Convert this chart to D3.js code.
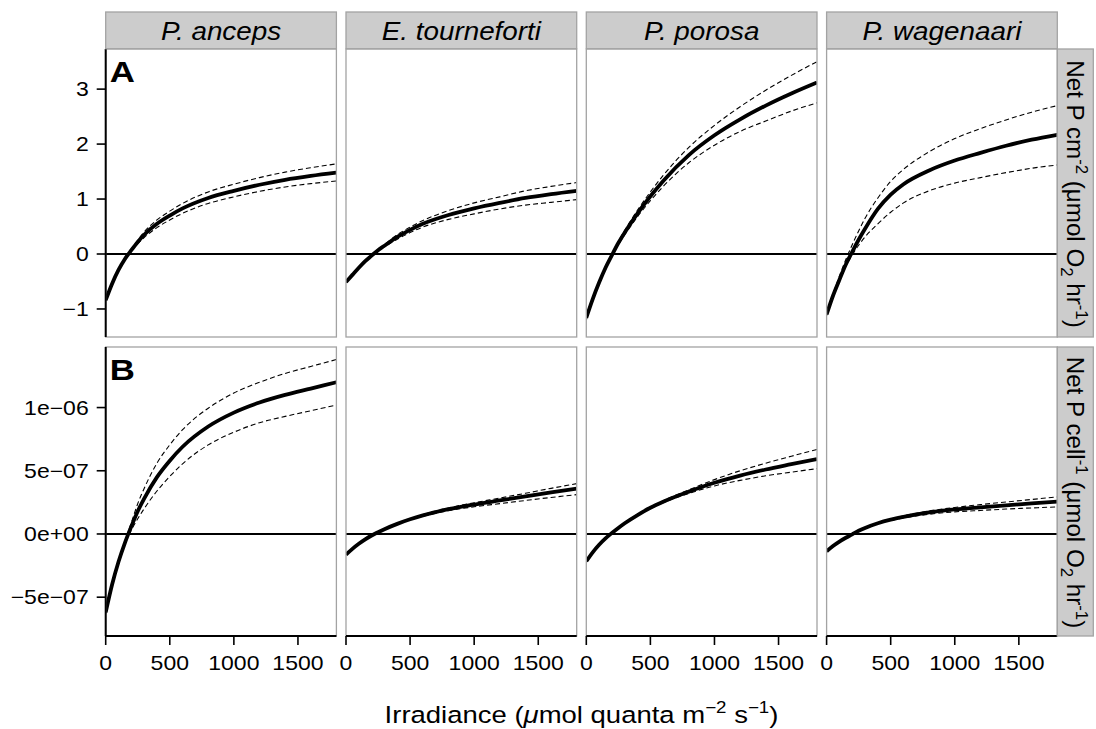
<!DOCTYPE html>
<html>
<head>
<meta charset="utf-8">
<script src="https://cdn.jsdelivr.net/npm/d3@7"></script>
<style>
  body { margin: 0; background: #fff; }
  svg { display: block; }
  text { font-family: "Liberation Sans", Arial, Helvetica, sans-serif; fill: #000; }
</style>
</head>
<body>
<svg id="chart" width="1096" height="729"></svg>
<script>
// Species shown in the four facet columns
const species = ["P. anceps", "E. tourneforti", "P. porosa", "P. wagenaari"];

// Irradiance grid (µmol quanta m^-2 s^-1) shared by every fitted curve
const irradiance = [0, 50, 100, 150, 200, 250, 300, 400, 500, 600, 800, 1000, 1200, 1400, 1600, 1800];
const xTicks = [0, 500, 1000, 1500];

// Row A: net P per cm^2 (µmol O2 hr^-1) — fit and confidence bounds, one array per species
const areaFit = [
  [-0.84, -0.54, -0.29, -0.09, 0.07, 0.22, 0.35, 0.55, 0.70, 0.83, 1.02, 1.15, 1.26, 1.35, 1.42, 1.48],
  [-0.51, -0.38, -0.25, -0.13, -0.03, 0.07, 0.15, 0.31, 0.44, 0.55, 0.71, 0.83, 0.93, 1.02, 1.09, 1.15],
  [-1.16, -0.82, -0.52, -0.25, -0.02, 0.20, 0.39, 0.74, 1.05, 1.33, 1.80, 2.16, 2.45, 2.70, 2.92, 3.12],
  [-1.10, -0.76, -0.47, -0.19, 0.04, 0.26, 0.46, 0.82, 1.08, 1.27, 1.52, 1.70, 1.84, 1.97, 2.08, 2.17]
];
const areaUpper = [
  [-0.85, -0.55, -0.29, -0.08, 0.08, 0.25, 0.40, 0.62, 0.78, 0.92, 1.13, 1.27, 1.39, 1.49, 1.57, 1.64],
  [-0.52, -0.39, -0.25, -0.13, -0.02, 0.08, 0.17, 0.35, 0.49, 0.61, 0.79, 0.93, 1.04, 1.15, 1.23, 1.30],
  [-1.20, -0.85, -0.54, -0.24, 0.00, 0.23, 0.43, 0.80, 1.13, 1.43, 1.94, 2.34, 2.68, 2.98, 3.25, 3.50],
  [-1.12, -0.74, -0.40, -0.10, 0.17, 0.42, 0.65, 1.02, 1.32, 1.54, 1.86, 2.10, 2.28, 2.44, 2.58, 2.70]
];
const areaLower = [
  [-0.83, -0.53, -0.29, -0.10, 0.06, 0.19, 0.30, 0.48, 0.62, 0.74, 0.92, 1.04, 1.14, 1.22, 1.28, 1.33],
  [-0.50, -0.37, -0.25, -0.13, -0.04, 0.06, 0.13, 0.27, 0.39, 0.49, 0.63, 0.73, 0.82, 0.89, 0.94, 0.99],
  [-1.12, -0.79, -0.50, -0.26, -0.04, 0.17, 0.35, 0.68, 0.97, 1.23, 1.66, 1.98, 2.23, 2.42, 2.60, 2.75],
  [-1.08, -0.75, -0.47, -0.22, -0.02, 0.16, 0.31, 0.55, 0.76, 0.93, 1.15, 1.29, 1.39, 1.48, 1.56, 1.62]
];

// Row B: net P per cell, in units of 1e-7 µmol O2 hr^-1
const cellUnit = 1e-7;
const cellFit = [
  [-6.20, -4.00, -2.20, -0.70, 0.60, 1.80, 2.80, 4.50, 5.80, 6.90, 8.50, 9.60, 10.40, 11.00, 11.50, 12.00],
  [-1.64, -1.18, -0.78, -0.43, -0.12, 0.14, 0.38, 0.80, 1.16, 1.47, 1.96, 2.33, 2.65, 2.97, 3.29, 3.59],
  [-2.16, -1.45, -0.85, -0.35, 0.08, 0.48, 0.85, 1.50, 2.07, 2.55, 3.35, 4.05, 4.62, 5.10, 5.52, 5.93],
  [-1.37, -0.95, -0.60, -0.30, -0.03, 0.25, 0.48, 0.85, 1.13, 1.35, 1.70, 1.94, 2.11, 2.27, 2.42, 2.56]
];
const cellUpper = [
  [-6.30, -4.05, -2.20, -0.60, 0.90, 2.40, 3.60, 5.60, 7.05, 8.25, 9.95, 11.15, 12.00, 12.70, 13.25, 13.80],
  [-1.66, -1.19, -0.78, -0.43, -0.12, 0.14, 0.38, 0.82, 1.20, 1.53, 2.06, 2.47, 2.84, 3.22, 3.61, 3.98],
  [-2.11, -1.40, -0.80, -0.30, 0.13, 0.53, 0.90, 1.55, 2.13, 2.63, 3.49, 4.30, 5.00, 5.60, 6.15, 6.69],
  [-1.37, -0.95, -0.60, -0.30, -0.03, 0.26, 0.50, 0.89, 1.19, 1.43, 1.82, 2.10, 2.32, 2.53, 2.73, 2.93]
];
const cellLower = [
  [-6.10, -3.95, -2.20, -0.80, 0.30, 1.20, 2.00, 3.40, 4.55, 5.55, 7.05, 8.05, 8.80, 9.30, 9.75, 10.20],
  [-1.62, -1.17, -0.78, -0.43, -0.12, 0.14, 0.38, 0.78, 1.12, 1.40, 1.84, 2.15, 2.40, 2.65, 2.89, 3.11],
  [-2.21, -1.50, -0.90, -0.40, 0.03, 0.43, 0.80, 1.45, 2.01, 2.47, 3.21, 3.80, 4.24, 4.60, 4.89, 5.17],
  [-1.37, -0.95, -0.60, -0.30, -0.03, 0.24, 0.46, 0.81, 1.07, 1.26, 1.56, 1.75, 1.86, 1.97, 2.06, 2.14]
];

// Y tick values and their printed labels
const areaTicks = [-1, 0, 1, 2, 3];
const areaTickLabels = ["\u22121", "0", "1", "2", "3"];
const cellTicks = [-5e-7, 0, 5e-7, 1e-6];
const cellTickLabels = ["\u22125e\u221207", "0e+00", "5e\u221207", "1e\u221206"];

// ---- layout ----
const svg = d3.select("#chart");
const colX0 = 105.7, colW = 230.7, colStep = 240.3;
const stripTop = 12, stripH = 36.7;
const rightStripW = 36;
const tickLen = 9;

// text in this figure is set slightly wide; stretch glyphs horizontally about their anchor
function placeText(sel, px, py, stretch, extra = "") {
  return sel.attr("x", 0).attr("y", 0)
    .attr("transform", `translate(${px},${py}) ${extra} scale(${stretch},1)`);
}

const rows = [
  {
    key: "A", top: 49, bottom: 337, domain: [-1.51, 3.73],
    fit: areaFit, upper: areaUpper, lower: areaLower, unit: 1,
    ticks: areaTicks, tickLabels: areaTickLabels,
    stripLabel: [["Net P cm", null], ["-2", "sup"], [" (\u03bcmol O", null], ["2", "sub"], [" hr", null], ["-1", "sup"], [")", null]]
  },
  {
    key: "B", top: 347, bottom: 636, domain: [-8.07e-7, 1.479e-6],
    fit: cellFit, upper: cellUpper, lower: cellLower, unit: cellUnit,
    ticks: cellTicks, tickLabels: cellTickLabels,
    stripLabel: [["Net P cell", null], ["-1", "sup"], [" (\u03bcmol O", null], ["2", "sub"], [" hr", null], ["-1", "sup"], [")", null]]
  }
];

const x = species.map((s, i) => d3.scaleLinear().domain([0, 1800]).range([colX0 + i * colStep, colX0 + i * colStep + colW]));
const panelRight = colX0 + 3 * colStep + colW;

const defs = svg.append("defs");

// Rich text helper: segments of [text, "sup" | "sub" | "it" | null]
function richText(sel, segs, size) {
  const supSize = Math.round(size * 0.7);
  let shift = 0;
  segs.forEach(([t, kind]) => {
    const ts = sel.append("tspan").text(t);
    let target = 0;
    if (kind === "sup") { ts.attr("font-size", supSize); target = -size * 0.42; }
    else if (kind === "sub") { ts.attr("font-size", supSize); target = size * 0.25; }
    else if (kind === "it") { ts.attr("font-style", "italic"); }
    ts.attr("dy", target - shift);
    shift = target;
  });
}

rows.forEach((row, r) => {
  const y = d3.scaleLinear().domain(row.domain).range([row.bottom, row.top]);
  const ph = row.bottom - row.top;

  species.forEach((sp, c) => {
    const xs = x[c];
    const x0 = xs.range()[0];
    const g = svg.append("g");
    const clipId = `clip-${r}-${c}`;
    defs.append("clipPath").attr("id", clipId)
      .append("rect").attr("x", x0).attr("y", row.top).attr("width", colW).attr("height", ph);

    g.append("rect").attr("x", x0).attr("y", row.top).attr("width", colW).attr("height", ph)
      .attr("fill", "#fff");

    const plot = g.append("g").attr("clip-path", `url(#${clipId})`);

    // zero reference line
    plot.append("line")
      .attr("x1", x0).attr("x2", x0 + colW)
      .attr("y1", y(0)).attr("y2", y(0))
      .attr("stroke", "#000").attr("stroke-width", 2);

    const line = d3.line()
      .x((d, i) => xs(irradiance[i]))
      .y(d => y(d * row.unit))
      .curve(d3.curveMonotoneX);

    [row.upper[c], row.lower[c]].forEach(vals => {
      plot.append("path").attr("d", line(vals))
        .attr("fill", "none").attr("stroke", "#000")
        .attr("stroke-width", 1.1).attr("stroke-dasharray", "5,3");
    });
    plot.append("path").attr("d", line(row.fit[c]))
      .attr("fill", "none").attr("stroke", "#000")
      .attr("stroke-width", 3.8).attr("stroke-linejoin", "round");

    // panel border
    g.append("rect").attr("x", x0).attr("y", row.top).attr("width", colW).attr("height", ph)
      .attr("fill", "none").attr("stroke", "#a3a3a3").attr("stroke-width", 1.3);

    // left axis on the first column
    if (c === 0) {
      g.append("line").attr("x1", x0).attr("x2", x0).attr("y1", row.top).attr("y2", row.bottom)
        .attr("stroke", "#000").attr("stroke-width", 2);
      const yAxis = g.append("g");
      row.ticks.forEach((t, k) => {
        yAxis.append("line").attr("x1", x0 - tickLen).attr("x2", x0)
          .attr("y1", y(t)).attr("y2", y(t)).attr("stroke", "#000").attr("stroke-width", 1.6);
        placeText(yAxis.append("text"), x0 - tickLen - 8, y(t), 1.15)
          .attr("text-anchor", "end").attr("dominant-baseline", "central")
          .attr("font-size", 20).text(row.tickLabels[k]);
      });
      // panel tag
      placeText(g.append("text"), x0 + 4, row.top + 33, 1.2)
        .attr("font-size", 29).attr("font-weight", "bold").text(row.key);
    }

    // bottom axis on the last row
    if (r === rows.length - 1) {
      g.append("line").attr("x1", x0).attr("x2", x0 + colW).attr("y1", row.bottom).attr("y2", row.bottom)
        .attr("stroke", "#000").attr("stroke-width", 2);
      xTicks.forEach(t => {
        g.append("line").attr("x1", xs(t)).attr("x2", xs(t))
          .attr("y1", row.bottom).attr("y2", row.bottom + tickLen)
          .attr("stroke", "#000").attr("stroke-width", 1.6);
        placeText(g.append("text"), xs(t), row.bottom + 34, 1.15)
          .attr("text-anchor", "middle").attr("font-size", 20).text(t);
      });
    }

    // column strips above the first row
    if (r === 0) {
      g.append("rect").attr("x", x0).attr("y", stripTop).attr("width", colW).attr("height", stripH)
        .attr("fill", "#cccccc").attr("stroke", "#a3a3a3").attr("stroke-width", 1.3);
      placeText(g.append("text"), x0 + colW / 2, stripTop + 27.5, 1.05)
        .attr("text-anchor", "middle").attr("font-size", 26.5).attr("font-style", "italic")
        .text(sp);
    }
  });

  // row strip on the right
  svg.append("rect").attr("x", panelRight).attr("y", row.top)
    .attr("width", rightStripW).attr("height", ph)
    .attr("fill", "#cccccc").attr("stroke", "#a3a3a3").attr("stroke-width", 1.3);
  const cx = panelRight + rightStripW / 2, cy = row.top + ph / 2;
  const st = placeText(svg.append("text"), cx - 8.5, cy + 1, 1.05, "rotate(90)")
    .attr("text-anchor", "middle").attr("font-size", 23);
  richText(st, row.stripLabel, 23);
});

// shared x-axis title
const xt = placeText(svg.append("text"), (colX0 + panelRight) / 2, 723, 1.17)
  .attr("text-anchor", "middle").attr("font-size", 23.5);
richText(xt, [["Irradiance (", null], ["\u03bc", "it"], ["mol quanta m", null], ["\u22122", "sup"], [" s", null], ["\u22121", "sup"], [")", null]], 23.5);
</script>
</body>
</html>
